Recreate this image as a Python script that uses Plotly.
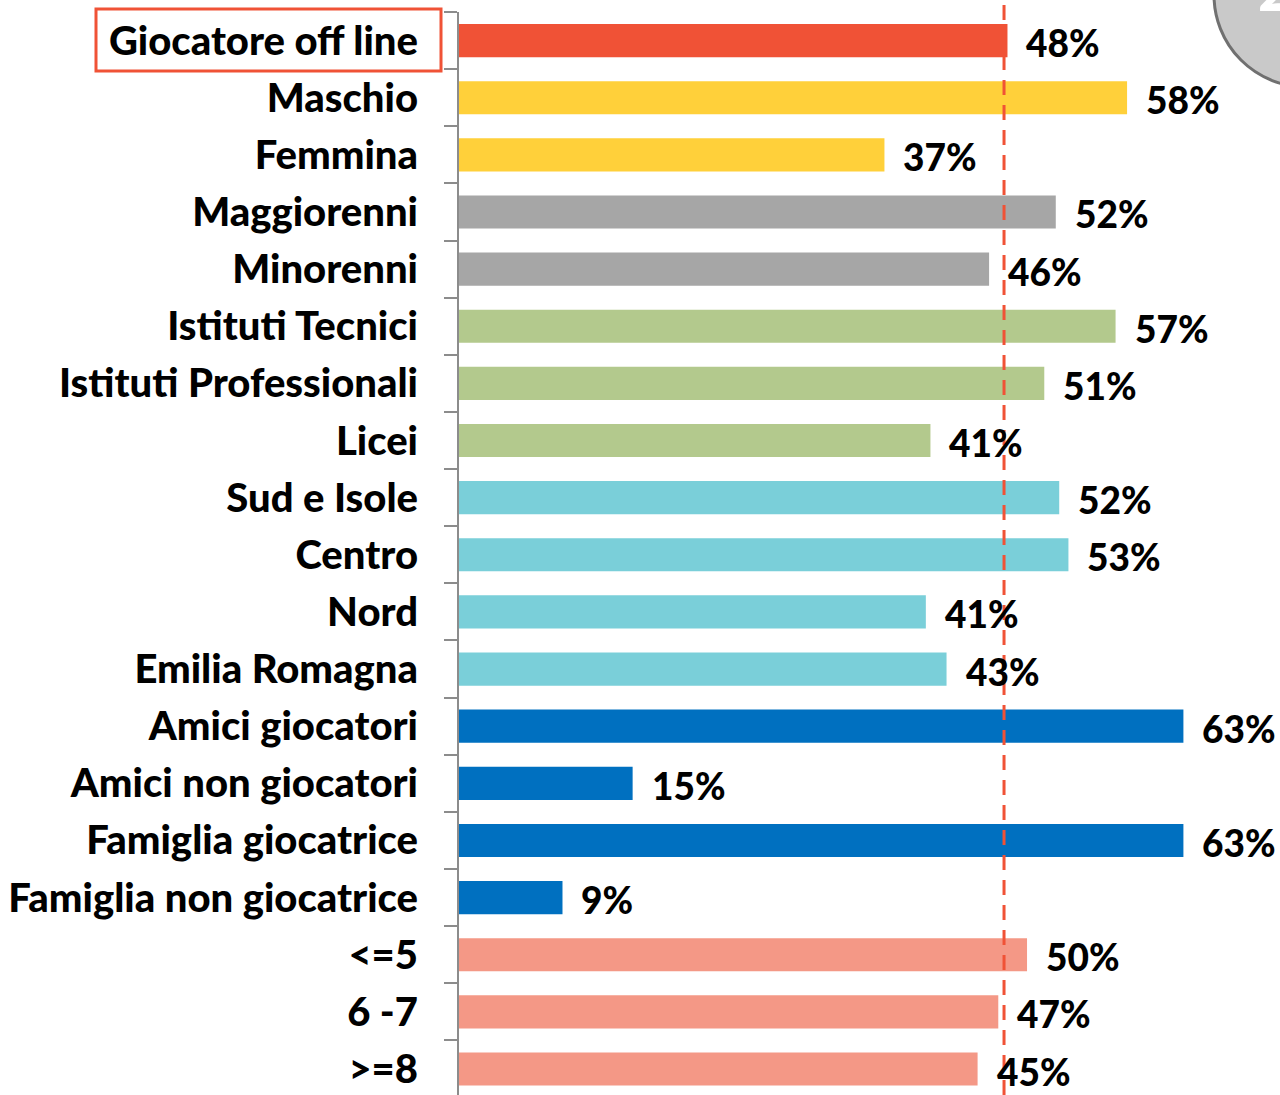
import plotly.graph_objects as go

categories = ["Giocatore off line", "Maschio", "Femmina", "Maggiorenni", "Minorenni",
              "Istituti Tecnici", "Istituti Professionali", "Licei", "Sud e Isole", "Centro",
              "Nord", "Emilia Romagna", "Amici giocatori", "Amici non giocatori",
              "Famiglia giocatrice", "Famiglia non giocatrice", "<=5", "6 -7", ">=8"]
values = [47.7, 58.1, 37.0, 51.9, 46.1, 57.1, 50.9, 41.0, 52.2, 53.0,
          40.6, 42.4, 63.0, 15.1, 63.0, 9.0, 49.4, 46.9, 45.1]
labels = ["48%", "58%", "37%", "52%", "46%", "57%", "51%", "41%", "52%", "53%",
          "41%", "43%", "63%", "15%", "63%", "9%", "50%", "47%", "45%"]
colors = ["#F05236", "#FFD03A", "#FFD03A", "#A6A6A6", "#A6A6A6",
          "#B3C98D", "#B3C98D", "#B3C98D", "#7ACFD9", "#7ACFD9",
          "#7ACFD9", "#7ACFD9", "#0070C0", "#0070C0", "#0070C0",
          "#0070C0", "#F49886", "#F49886", "#F49886"]
media = 47.4

FONT = "Lato"

fig = go.Figure()
fig.add_trace(go.Bar(
    y=categories, x=values, orientation="h",
    marker=dict(color=colors, line=dict(width=0)),
    width=0.58, hoverinfo="skip"))

# etichette valori
for cat, v, lab in zip(categories, values, labels):
    fig.add_annotation(x=v, y=cat, text=lab, showarrow=False,
                       xanchor="left", yanchor="middle", xshift=17, yshift=-2,
                       font=dict(family=FONT, size=37, color="black", weight=900))

# linea media tratteggiata
fig.add_shape(type="line", xref="x", yref="paper", x0=media, x1=media, y0=0, y1=1.012,
              line=dict(color="#F05236", width=3, dash="15px,10px"))

# riquadro rosso sul totale
fig.add_shape(type="rect", xref="paper", yref="paper", xsizemode="pixel", ysizemode="pixel",
              xanchor=0, yanchor=1, x0=-363, x1=-18, y0=-59, y1=3,
              line=dict(color="#F05236", width=3))

# cerchio grigio (numero pagina)
fig.add_shape(type="circle", xref="paper", yref="paper", xsizemode="pixel", ysizemode="pixel",
              xanchor=1, yanchor=1, x0=-66, x1=118, y0=-75, y1=109,
              fillcolor="#C9C9C9", line=dict(color="#707070", width=3), layer="above")
fig.add_annotation(xref="paper", yref="paper", x=1, y=1, xanchor="left", yanchor="bottom",
                   xshift=-24, yshift=-14, text="2", showarrow=False,
                   font=dict(family=FONT, size=60, color="white", weight=900))

fig.update_layout(
    width=1280, height=1095,
    margin=dict(l=459, r=0, t=12, b=0),
    paper_bgcolor="white", plot_bgcolor="white",
    showlegend=False,
    xaxis=dict(range=[0, 71.4], visible=False, fixedrange=True),
    yaxis=dict(categoryorder="array", categoryarray=categories,
               range=[18.455, -0.5], showgrid=False, zeroline=False,
               showline=True, linecolor="#8C8C8C", linewidth=2,
               ticks="outside", tickson="boundaries", ticklen=13, tickwidth=2,
               tickcolor="#8C8C8C", ticklabelstandoff=31,
               tickfont=dict(family=FONT, size=40, color="black", weight=900)),
)

fig.write_html("out.html", config={"displayModeBar": False},
               post_script="document.body.style.margin='0';document.body.style.overflow='hidden';")
